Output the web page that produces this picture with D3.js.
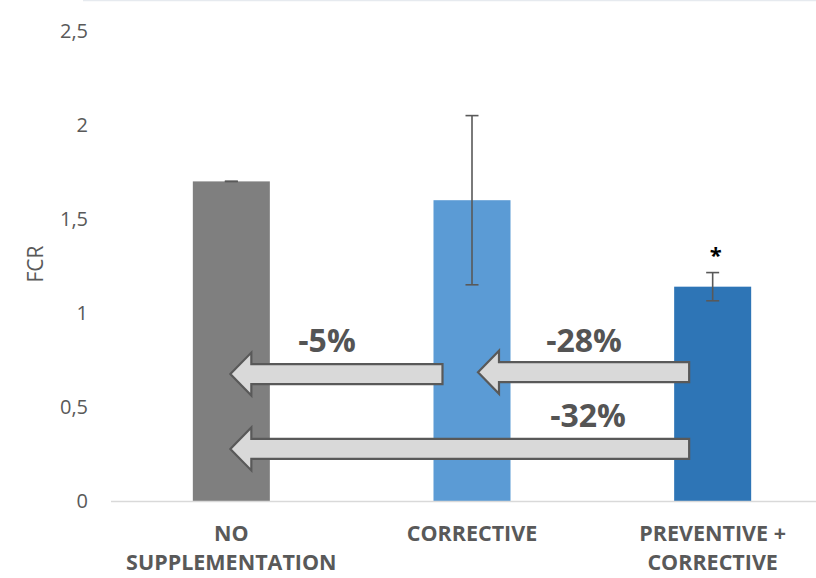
<!DOCTYPE html>
<html>
<head>
<meta charset="utf-8">
<script src="https://cdn.jsdelivr.net/npm/d3@7"></script>
<style>
  html, body { margin: 0; padding: 0; background: #ffffff; }
  svg { display: block; }
</style>
</head>
<body>
<svg id="chart" width="816" height="578"></svg>
<script>
// ---- data ----
const categories = ["NO SUPPLEMENTATION", "CORRECTIVE", "PREVENTIVE + CORRECTIVE"];
const labelLines = [["NO", "SUPPLEMENTATION"], ["CORRECTIVE"], ["PREVENTIVE +", "CORRECTIVE"]];
const fcrValues = [1.70, 1.60, 1.14];
const fcrErrors = [0.00, 0.45, 0.075];
const barColors = ["#7f7f7f", "#5b9bd5", "#2e75b6"];
const yTicks = [0, 0.5, 1, 1.5, 2, 2.5];
const yTickLabels = ["0", "0,5", "1", "1,5", "2", "2,5"];
const significance = ["", "", "*"];
// comparison arrows: from (tail) category -> to (head) category, at an FCR level
const arrowFrom = [1, 2, 2];
const arrowTo = [0, 1, 0];
const arrowLevel = [0.675, 0.685, 0.277];
const arrowLabels = ["-5%", "-28%", "-32%"];
const arrowLabelLevel = [0.79, 0.79, 0.395];

// ---- layout ----
const svg = d3.select("#chart");
const y = d3.scaleLinear().domain([0, 2.5]).range([501, 31]);
const x = d3.scaleBand().domain(categories).range([111, 833]).paddingInner(0.68).paddingOuter(0.34);
const textGray = "#595959";

// faint chart border at top
svg.append("line").attr("x1", 83).attr("x2", 816).attr("y1", 0.5).attr("y2", 0.5)
  .attr("stroke", "#e6eaef").attr("stroke-width", 1.5);

// y tick labels
svg.append("g").selectAll("text").data(yTicks).join("text")
  .attr("x", 88)
  .attr("y", d => y(d) + 7)
  .attr("text-anchor", "end")
  .attr("font-family", "Open Sans, sans-serif")
  .attr("font-size", 20)
  .attr("fill", textGray)
  .text((d, i) => yTickLabels[i]);

// y axis title
svg.append("text")
  .attr("transform", "translate(43,264) rotate(-90)")
  .attr("text-anchor", "middle")
  .attr("font-family", "Open Sans, sans-serif")
  .attr("font-size", 21)
  .attr("fill", textGray)
  .text("FCR");

// bars
svg.append("g").selectAll("rect").data(categories).join("rect")
  .attr("x", d => x(d))
  .attr("width", x.bandwidth())
  .attr("y", (d, i) => y(fcrValues[i]))
  .attr("height", (d, i) => y(0) - y(fcrValues[i]))
  .attr("fill", (d, i) => barColors[i]);

// baseline
svg.append("line").attr("x1", 111).attr("x2", 816).attr("y1", y(0) + 0.5).attr("y2", y(0) + 0.5)
  .attr("stroke", "#d9d9d9").attr("stroke-width", 1.5);

// error bars
const eb = svg.append("g").attr("stroke", textGray).attr("stroke-width", 1.6);
categories.forEach((c, i) => {
  const cx = x(c) + x.bandwidth() / 2;
  const hi = y(fcrValues[i] + fcrErrors[i]);
  const lo = y(fcrValues[i] - fcrErrors[i]);
  eb.append("line").attr("x1", cx).attr("x2", cx).attr("y1", hi).attr("y2", lo);
  eb.append("line").attr("x1", cx - 6.5).attr("x2", cx + 6.5).attr("y1", hi).attr("y2", hi);
  eb.append("line").attr("x1", cx - 6.5).attr("x2", cx + 6.5).attr("y1", lo).attr("y2", lo);
});

// significance marks
svg.append("g").selectAll("text").data(categories).join("text")
  .attr("x", d => x(d) + x.bandwidth() / 2 + 3)
  .attr("y", (d, i) => y(fcrValues[i] + fcrErrors[i]) - 10)
  .attr("text-anchor", "middle")
  .attr("font-family", "Open Sans, sans-serif")
  .attr("font-weight", "bold")
  .attr("font-size", 22)
  .attr("fill", "#000")
  .text((d, i) => significance[i]);

// arrows
const headLen = 21, headHalf = 21.5, shaftHalf = 10;
const ag = svg.append("g");
arrowFrom.forEach((f, i) => {
  const toC = categories[arrowTo[i]], fromC = categories[arrowFrom[i]];
  const tipX = x(toC) + x.bandwidth() / 2 + (arrowTo[i] === 1 ? 6 : -1);
  const tailX = x(fromC) + (arrowFrom[i] === 1 ? 9 : 15);
  const cy = y(arrowLevel[i]);
  const baseX = tipX + headLen;
  const pts = [
    [tipX, cy], [baseX, cy - headHalf], [baseX, cy - shaftHalf], [tailX, cy - shaftHalf],
    [tailX, cy + shaftHalf], [baseX, cy + shaftHalf], [baseX, cy + headHalf]
  ];
  ag.append("path")
    .attr("d", d3.line()(pts) + "Z")
    .attr("fill", "#d9d9d9")
    .attr("stroke", textGray)
    .attr("stroke-width", 2.2)
    .attr("stroke-linejoin", "miter");
});

// percent labels
const labelX = [327, 584, 588];
svg.append("g").selectAll("text").data(arrowLabels).join("text")
  .attr("x", (d, i) => labelX[i])
  .attr("y", (d, i) => y(arrowLabelLevel[i]))
  .attr("text-anchor", "middle")
  .attr("font-family", "Open Sans, sans-serif")
  .attr("font-weight", "bold")
  .attr("font-size", 32)
  .attr("fill", "#545454")
  .text(d => d);

// category labels
const cg = svg.append("g");
categories.forEach((c, i) => {
  const cx = x(c) + x.bandwidth() / 2;
  labelLines[i].forEach((line, j) => {
    cg.append("text")
      .attr("x", cx)
      .attr("y", 541 + j * 29)
      .attr("text-anchor", "middle")
      .attr("font-family", "Open Sans, sans-serif")
      .attr("font-weight", "bold")
      .attr("font-size", 21.5)
      .attr("fill", textGray)
      .text(line);
  });
});
</script>
</body>
</html>
